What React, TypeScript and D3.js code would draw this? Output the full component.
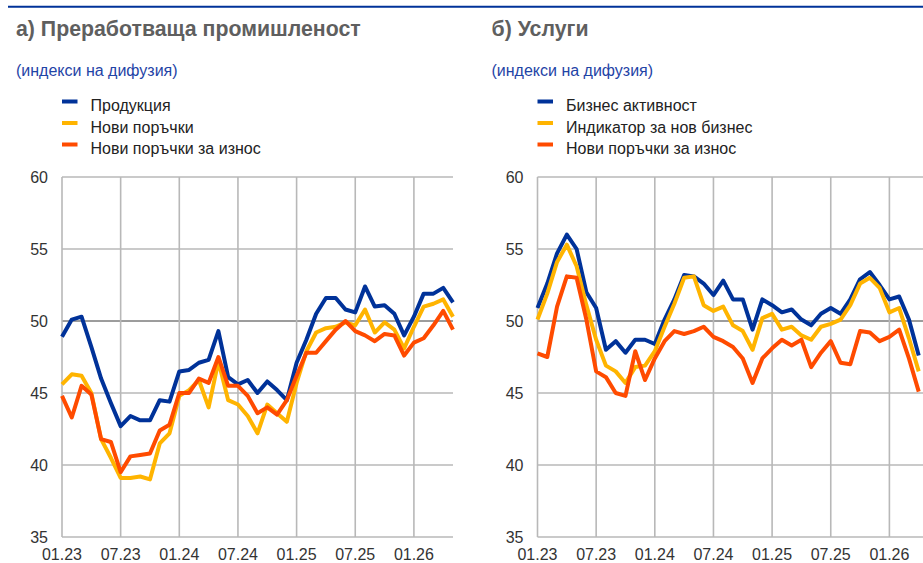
import React, { useRef, useEffect } from 'react'
import * as d3 from 'd3'

// monthly observations from 01.23 onwards
const tickLabels = ['01.23', '07.23', '01.24', '07.24', '01.25', '07.25', '01.26']
const yTicks = [35, 40, 45, 50, 55, 60]

const manufacturingSeries = ['Продукция', 'Нови поръчки', 'Нови поръчки за износ']
const manufacturingOutput = [
  48.9, 50.1, 50.3, 48.2, 46.0, 44.3, 42.7, 43.4, 43.1, 43.1, 44.5, 44.4, 46.5, 46.6,
  47.1, 47.3, 49.3, 46.1, 45.6, 45.9, 45.0, 45.8, 45.2, 44.5, 47.1, 48.7, 50.5, 51.6,
  51.6, 50.8, 50.6, 52.4, 51.0, 51.1, 50.5, 49.0, 50.3, 51.9, 51.9, 52.3, 51.3,
]
const manufacturingNewOrders = [
  45.6, 46.3, 46.2, 45.0, 41.8, 40.5, 39.1, 39.1, 39.2, 39.0, 41.5, 42.2, 44.8, 45.2,
  45.9, 44.0, 47.2, 44.5, 44.2, 43.4, 42.2, 44.2, 43.6, 43.0, 45.7, 47.9, 49.2, 49.5,
  49.6, 49.9, 49.7, 50.8, 49.2, 49.9, 49.4, 48.1, 49.6, 51.0, 51.2, 51.5, 50.3,
]
const manufacturingExportOrders = [
  44.8, 43.3, 45.5, 44.9, 41.8, 41.6, 39.5, 40.6, 40.7, 40.8, 42.4, 42.8, 45.0, 45.0,
  46.0, 45.7, 47.5, 45.5, 45.5, 44.8, 43.6, 44.0, 43.5, 44.5, 46.2, 47.8, 47.8, 48.6,
  49.4, 50.0, 49.3, 49.0, 48.6, 49.1, 49.0, 47.6, 48.5, 48.8, 49.7, 50.7, 49.4,
]

const servicesSeries = ['Бизнес активност', 'Индикатор за нов бизнес', 'Нови поръчки за износ']
const servicesActivity = [
  50.9, 52.6, 54.7, 56.0, 55.0, 52.0, 50.9, 48.0, 48.6, 47.8, 48.7, 48.7, 48.4, 50.1,
  51.5, 53.2, 53.1, 52.6, 51.8, 52.8, 51.5, 51.5, 49.4, 51.5, 51.1, 50.6, 50.8, 50.1,
  49.7, 50.5, 50.9, 50.5, 51.5, 52.9, 53.4, 52.5, 51.5, 51.7, 50.1, 47.6,
]
const servicesNewBusiness = [
  50.1, 51.9, 54.1, 55.3, 53.8, 51.1, 48.7, 46.9, 46.5, 45.7, 46.8, 46.9, 47.9, 49.6,
  51.2, 53.0, 53.1, 51.1, 50.7, 51.0, 49.7, 49.3, 48.0, 50.2, 50.5, 49.4, 49.6, 49.0,
  48.7, 49.6, 49.8, 50.1, 51.1, 52.6, 53.0, 52.3, 50.6, 50.9, 48.8, 46.5,
]
const servicesExportOrders = [
  47.75, 47.5, 51.0, 53.1, 53.0, 50.1, 46.5, 46.1, 45.0, 44.8, 47.9, 45.9, 47.4, 48.6,
  49.3, 49.1, 49.3, 49.6, 48.9, 48.6, 48.2, 47.4, 45.7, 47.4, 48.1, 48.7, 48.3, 48.7,
  46.8, 47.8, 48.6, 47.1, 47.0, 49.3, 49.2, 48.6, 48.9, 49.4, 47.4, 45.1,
]

const colors = ['#003299', '#ffb400', '#ff4b00']
const font = 'Arial, "Liberation Sans", sans-serif'

function drawPanel(svg, left, title, names, series) {
  const g = svg.append('g')
  const plotLeft = left + 46
  const plotWidth = 391
  const xScale = d3.scaleLinear().domain([0, 40]).range([plotLeft, plotLeft + plotWidth])
  const yScale = d3.scaleLinear().domain([35, 60]).range([537, 177])

  g.append('text')
    .attr('x', left)
    .attr('y', 36)
    .attr('font-family', font)
    .attr('font-size', 21.3)
    .attr('font-weight', 'bold')
    .attr('fill', '#5f5f5f')
    .text(title)

  g.append('text')
    .attr('x', left)
    .attr('y', 76)
    .attr('font-family', font)
    .attr('font-size', 16)
    .attr('fill', '#1f44a6')
    .text('(индекси на дифузия)')

  names.forEach((name, i) => {
    const baseline = 111 + i * 21.5
    g.append('rect')
      .attr('x', plotLeft)
      .attr('y', baseline - 11.5)
      .attr('width', 15.5)
      .attr('height', 4)
      .attr('fill', colors[i])
    g.append('text')
      .attr('x', plotLeft + 28.5)
      .attr('y', baseline)
      .attr('font-family', font)
      .attr('font-size', 16)
      .attr('fill', '#222')
      .text(name)
  })

  // grid
  yTicks.forEach(v => {
    g.append('line')
      .attr('x1', plotLeft)
      .attr('x2', plotLeft + plotWidth)
      .attr('y1', yScale(v))
      .attr('y2', yScale(v))
      .attr('stroke', v === 50 ? '#3a3a3a' : '#b8b8b8')
      .attr('stroke-width', v === 50 ? 1 : 1.6)
    g.append('text')
      .attr('x', plotLeft - 14)
      .attr('y', yScale(v))
      .attr('dy', '0.36em')
      .attr('text-anchor', 'end')
      .attr('font-family', font)
      .attr('font-size', 16)
      .attr('fill', '#333')
      .text(v)
  })

  tickLabels.forEach((label, i) => {
    const x = xScale(i * 6)
    g.append('line')
      .attr('x1', x)
      .attr('x2', x)
      .attr('y1', yScale(60))
      .attr('y2', yScale(35))
      .attr('stroke', '#b8b8b8')
      .attr('stroke-width', 1.6)
    g.append('text')
      .attr('x', x)
      .attr('y', 560)
      .attr('text-anchor', 'middle')
      .attr('font-family', font)
      .attr('font-size', 16)
      .attr('fill', '#333')
      .text(label)
  })

  const line = d3.line()
    .x((d, i) => xScale(i))
    .y(d => yScale(d))

  series.forEach((values, i) => {
    g.append('path')
      .attr('d', line(values))
      .attr('fill', 'none')
      .attr('stroke', colors[i])
      .attr('stroke-width', 4)
      .attr('stroke-linejoin', 'round')
  })
}

export default function App() {
  const svgRef = useRef(null)

  useEffect(() => {
    const svg = d3.select(svgRef.current)
    svg.selectAll('*').remove()

    svg.append('line')
      .attr('x1', 8)
      .attr('x2', 923)
      .attr('y1', 6.8)
      .attr('y2', 6.8)
      .attr('stroke', '#003299')
      .attr('stroke-width', 2)

    drawPanel(svg, 16, 'а) Преработваща промишленост', manufacturingSeries,
      [manufacturingOutput, manufacturingNewOrders, manufacturingExportOrders])
    drawPanel(svg, 491.5, 'б) Услуги', servicesSeries,
      [servicesActivity, servicesNewBusiness, servicesExportOrders])
  }, [])

  return (
    <svg
      ref={svgRef}
      width={923}
      height={563}
      style={{ position: 'absolute', left: 0, top: 0, background: '#fff' }}
    />
  )
}
